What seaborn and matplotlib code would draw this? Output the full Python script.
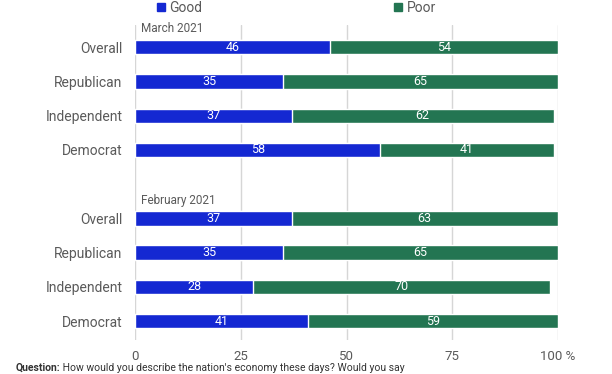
import pandas as pd
import numpy as np
import matplotlib.pyplot as plt
import seaborn as sns
from matplotlib.patches import Patch

sns.set_theme(style='white')
plt.rcParams['font.family'] = ['Roboto', 'DejaVu Sans']

# Data
groups = ['March 2021', 'February 2021']
parties = ['Overall', 'Republican', 'Independent', 'Democrat']
good_march = [46, 35, 37, 58]
poor_march = [54, 65, 62, 41]
good_feb = [37, 35, 28, 41]
poor_feb = [63, 65, 70, 59]

blue = '#1428d2'
green = '#237552'
grey_text = '#5a5a5a'

rows = []
for g, goods, poors in [('Mar', good_march, poor_march), ('Feb', good_feb, poor_feb)]:
    for p, gd, pr in zip(parties, goods, poors):
        rows.append({'key': f'{g} {p}', 'party': p, 'Good': gd, 'Poor': pr, 'Total': gd + pr})
df = pd.DataFrame(rows)
order = [f'Mar {p}' for p in parties] + ['gap'] + [f'Feb {p}' for p in parties]

fig = plt.figure(figsize=(6.12, 3.74), dpi=100)
ax = fig.add_axes([0.2206, 0.091, 0.6912, 0.842])

# stacked: total in green, good in blue on top
sns.barplot(data=df, y='key', x='Total', order=order, color=green, width=0.42,
            saturation=1, orient='h', ax=ax)
sns.barplot(data=df, y='key', x='Good', order=order, color=blue, width=0.42,
            saturation=1, orient='h', ax=ax)

# value labels
for _, r in df.iterrows():
    ypos = order.index(r['key'])
    ax.text(r['Good'] / 2, ypos, str(r['Good']), color='white', ha='center',
            va='center', fontsize=9)
    ax.text(r['Good'] + r['Poor'] / 2, ypos, str(r['Poor']), color='white',
            ha='center', va='center', fontsize=9)

ax.set_xlim(0, 100)
ax.set_ylim(8.55, -0.65)
ax.set_xticks([0, 25, 50, 75, 100])
ax.set_xticklabels(['0', '25', '50', '75', '100 %'])
ax.set_yticks(range(len(order)))
ax.set_yticklabels(parties + [''] + parties)
ax.tick_params(axis='y', labelsize=10, labelcolor=grey_text, length=0, pad=9)
ax.tick_params(axis='x', labelsize=9.5, labelcolor=grey_text, length=0, pad=7)
ax.set_xlabel('')
ax.set_ylabel('')
for s in ax.spines.values():
    s.set_visible(False)
ax.grid(axis='x', color='#d6d6d6', linewidth=1)
ax.grid(axis='y', visible=False)
ax.set_axisbelow(True)

# group headers
ax.text(1.5, -0.36, groups[0], fontsize=8.5, color=grey_text, va='bottom')
ax.text(1.5, 4.68, groups[1], fontsize=8.5, color=grey_text, va='bottom')

# legend
handles = [Patch(color=blue, label='Good'), Patch(color=green, label='Poor')]
fig.legend(handles=handles, loc='center', bbox_to_anchor=(0.484, 0.979), ncol=2,
           frameon=False, fontsize=10, handlelength=0.6, handleheight=0.6,
           handletextpad=0.3, columnspacing=13.8, labelcolor=grey_text)

# footnote at the bottom edge
q = fig.text(0.025, 0.004, 'Question:', fontsize=7.5, fontweight='bold',
             color='#333333', va='bottom')
ax.annotate(" How would you describe the nation's economy these days? Would you say",
            xy=(1, 0), xycoords=q, va='bottom', ha='left', fontsize=7.5,
            color='#333333', annotation_clip=False)

fig.savefig('out.png', dpi=100)
